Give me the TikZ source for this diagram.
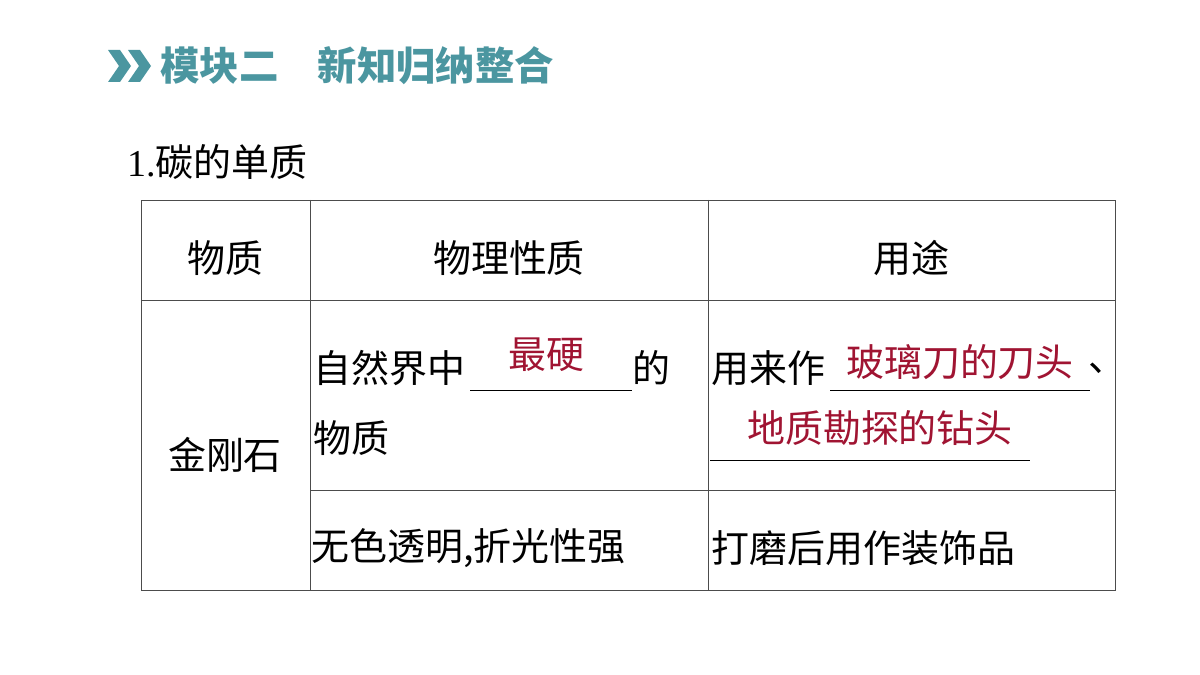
\documentclass[tikz,border=0pt]{standalone}
\usepackage{fontspec}
\setmainfont{Noto Sans CJK SC}
\newfontfamily\numfont{Liberation Serif}
\definecolor{teal1}{RGB}{75,150,160}
\definecolor{ansred}{RGB}{160,20,50}
\tikzset{
  cell/.style={anchor=center,font=\fontsize{27}{32}\selectfont},
  txt/.style={anchor=west,inner sep=0pt,font=\fontsize{27}{32}\selectfont},
  ans/.style={anchor=center,inner sep=0pt,text=ansred,font=\fontsize{27}{32}\selectfont},
  blank/.style={draw=black,line width=0.6pt},
  grid/.style={draw=black!70,line width=0.6pt}
}
\begin{document}
\begin{tikzpicture}[x=0.025cm,y=-0.025cm]
		\useasboundingbox (0,0) rectangle (1200,675);
		% header
		\fill[teal1] (108,50) -- (120,50) -- (131,66) -- (120,82) -- (108,82) -- (119,66) -- cycle;
		\fill[teal1] (128,50) -- (140,50) -- (151,66) -- (140,82) -- (128,82) -- (139,66) -- cycle;
		\node[txt,text=teal1,font=\fontsize{28}{32}\selectfont\bfseries] (head) at (160,66) {模块二\hspace{1em}新知归纳整合};
		\node[txt] (title) at (127,162) {{\numfont 1.}碳的单质};
		% table
		\draw[grid] (141,200) rectangle (1115,590);
		\draw[grid] (310,200) -- (310,590);
		\draw[grid] (708,200) -- (708,590);
		\draw[grid] (141,300) -- (1115,300);
		\draw[grid] (310,490) -- (1115,490);
		\node[cell] (h1) at (225,258) {物质};
		\node[cell] (h2) at (509,258) {物理性质};
		\node[cell] (h3) at (911,258) {用途};
		\node[cell] (dia) at (225,455) {金刚石};
		% hardness
		\node[txt] (p1) at (313,368) {自然界中};
		\draw[blank] (470,390) -- (632,390);
		\node[ans] (a1) at (546,355) {最硬};
		\node[txt] (p2) at (632,368) {的};
		\node[txt] (p3) at (313,438) {物质};
		% uses
		\node[txt] (u1) at (711,368) {用来作};
		\draw[blank] (830,390) -- (1090,390);
		\node[ans] (a2) at (960,362) {玻璃刀的刀头};
		\node[txt] (u2) at (1088,368) {、};
		\draw[blank] (710,460) -- (1030,460);
		\node[ans] (a3) at (880,428) {地质勘探的钻头};
		% last row
		\node[txt] (p4) at (311,548) {无色透明,折光性强};
		\node[txt] (u3) at (711,548) {打磨后用作装饰品};
\end{tikzpicture}
\end{document}
